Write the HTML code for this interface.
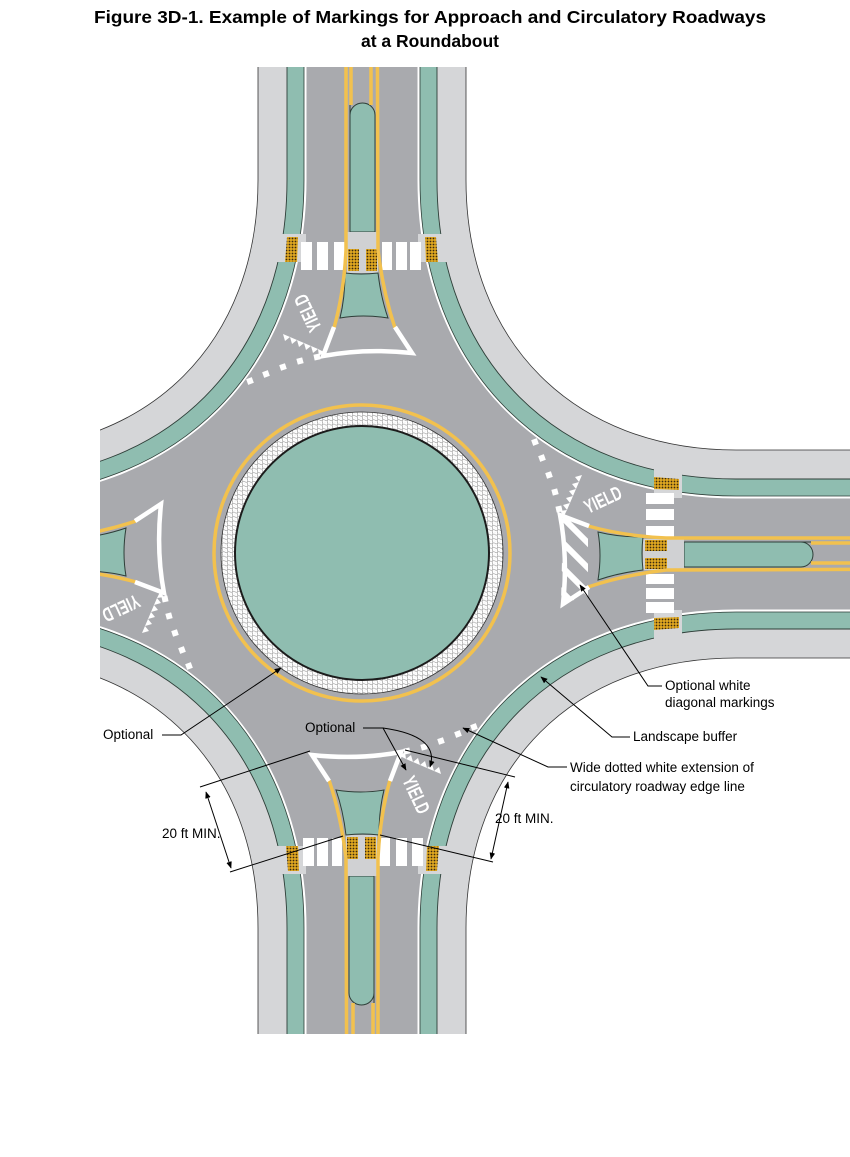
<!DOCTYPE html>
<html><head><meta charset="utf-8"><style>
html,body{margin:0;padding:0;background:#fff;width:850px;height:1157px;overflow:hidden;}
svg{display:block;}
</style></head><body>
<svg width="850" height="1157" viewBox="0 0 850 1157" xmlns="http://www.w3.org/2000/svg" font-family="Liberation Sans, Arial, sans-serif">
<defs>
<pattern id="hex" patternUnits="userSpaceOnUse" width="5" height="4.4">
<rect width="5" height="4.4" fill="#fff"/>
<circle cx="1.25" cy="1.1" r="1.6" fill="#fff" stroke="#8a8a8a" stroke-width="0.5"/>
<circle cx="3.75" cy="3.3" r="1.6" fill="#fff" stroke="#8a8a8a" stroke-width="0.5"/>
</pattern>
<pattern id="pad" patternUnits="userSpaceOnUse" width="3" height="3">
<rect width="3" height="3" fill="#e0a820"/>
<circle cx="1.5" cy="1.5" r="0.9" fill="#3a2a10"/>
</pattern>
<clipPath id="frame"><rect x="100" y="67" width="750" height="967"/></clipPath>
<marker id="ah" viewBox="0 0 10 10" refX="9" refY="5" markerWidth="7" markerHeight="7" orient="auto-start-reverse">
<path d="M0,1 L10,5 L0,9 Z" fill="#000"/></marker>
<g id="arm">
<polygon points="272,234 306,234 306,262 268,262" fill="#d5d6d8"/>
<polygon points="418,234 452,234 456,262 418,262" fill="#d5d6d8"/>
<polygon points="287,237 298,237 297,262 285,262" fill="url(#pad)"/>
<polygon points="425,237 436,237 438,262 426,262" fill="url(#pad)"/>
<g fill="#fff">
<rect x="301" y="242" width="11" height="28"/>
<rect x="317" y="242" width="11" height="28"/>
<rect x="334" y="242" width="11" height="28"/>
<rect x="382" y="242" width="10" height="28"/>
<rect x="396" y="242" width="11" height="28"/>
<rect x="410" y="242" width="11" height="28"/>
</g>
<path d="M350,-400 L350,115 A12.5,12 0 0 1 375,115 L375,232 L350,232 Z" fill="#8fbdb0" stroke="#2e3e38" stroke-width="1"/>
<rect x="347" y="232" width="31" height="41" fill="#d0d1d3"/>
<rect x="348" y="249" width="11" height="22" fill="url(#pad)"/>
<rect x="366" y="249" width="11" height="22" fill="url(#pad)"/>
<path d="M345,273 Q361,275 378,273 Q381,298 388,318 Q363,314 340,318 Q345,298 345,273 Z" fill="#8fbdb0" stroke="#2e3e38" stroke-width="1"/>
<g fill="none" stroke="#f2c14e" stroke-width="3.5">
<path d="M346,-400 L346,250 Q344,292 334,328"/>
<path d="M351,-400 L351,105"/>
<path d="M376,-400 L378,250 Q383,292 395,328"/>
<path d="M371,-400 L371,105"/>
</g>
<path d="M334,327 L323,356 Q365,348 412,353 L395,327" fill="none" stroke="#fff" stroke-width="4.5" stroke-linejoin="miter"/>
<g fill="#fff">
<path d="M283,334 l7,3 l-5,4 z"/><path d="M290,337 l7,3 l-5,4 z"/><path d="M297,340 l7,3 l-5,4 z"/>
<path d="M304,343 l7,3 l-5,4 z"/><path d="M311,346 l7,3 l-5,4 z"/><path d="M318,349 l6,3 l-5,4 z"/>
</g>
<g fill="#fff">
<rect x="-3" y="-3" width="6" height="6" transform="translate(250,381) rotate(-20)"/>
<rect x="-3" y="-3" width="6" height="6" transform="translate(266,374) rotate(-20)"/>
<rect x="-3" y="-3" width="6" height="6" transform="translate(283,367) rotate(-18)"/>
<rect x="-3" y="-3" width="6" height="6" transform="translate(300,361) rotate(-15)"/>
<rect x="-3" y="-3" width="6" height="6" transform="translate(317,357) rotate(-12)"/>
</g>
<text x="0" y="0" font-size="14" font-weight="bold" fill="#fff" text-anchor="middle" dominant-baseline="central" transform="translate(308,313) rotate(-115) scale(0.95,1.4)">YIELD</text>
</g>
</defs>

<text x="430" y="23" font-size="17.5" font-weight="bold" text-anchor="middle" textLength="672" lengthAdjust="spacingAndGlyphs">Figure 3D-1.  Example of Markings for Approach and Circulatory Roadways</text>
<text x="430" y="47" font-size="17.5" font-weight="bold" text-anchor="middle">at a Roundabout</text>

<g clip-path="url(#frame)">
<path d="M258,-100 L258,180 C258,342 150,450 -12,450 L-100,450 L-100,658 L-12,658 C150,658 258,766 258,928 L258,1200 L466,1200 L466,928 C466,766 574,658 736,658 L1000,658 L1000,450 L736,450 C574,450 466,342 466,180 L466,-100 Z" fill="#d5d6d8" stroke="#333" stroke-width="0.8"/>
<path d="M287,-100 L287,180 C287,359.4 167.4,479 -12,479 L-100,479 L-100,629 L-12,629 C167.4,629 287,748.6 287,928 L287,1200 L437,1200 L437,928 C437,748.6 556.6,629 736,629 L1000,629 L1000,479 L736,479 C556.6,479 437,359.4 437,180 L437,-100 Z" fill="#8fbdb0" stroke="#2e3e38" stroke-width="0.9"/>
<path d="M304,-100 L304,180 C304,369.6 177.6,496 -12,496 L-100,496 L-100,612 L-12,612 C177.6,612 304,738.4 304,928 L304,1200 L420,1200 L420,928 C420,738.4 546.4,612 736,612 L1000,612 L1000,496 L736,496 C546.4,496 420,369.6 420,180 L420,-100 Z" fill="#ffffff" stroke="#2e3e38" stroke-width="0.8"/>
<path d="M306.5,-100 L306.5,180 C306.5,369.6 179.1,498.5 -12,498.5 L-100,498.5 L-100,609.5 L-12,609.5 C179.1,609.5 306.5,738.4 306.5,928 L306.5,1200 L417.5,1200 L417.5,928 C417.5,738.4 544.9,609.5 736,609.5 L1000,609.5 L1000,498.5 L736,498.5 C544.9,498.5 417.5,369.6 417.5,180 L417.5,-100 Z" fill="#a9aaae"/>

<use href="#arm"/>
<use href="#arm" transform="rotate(90 362 554)"/>
<use href="#arm" transform="rotate(180 362 554)"/>
<use href="#arm" transform="rotate(270 362 554)"/>

<clipPath id="nose"><polygon points="563,518 588,528 588,598 561,602"/></clipPath>
<g clip-path="url(#nose)" stroke="#fff" stroke-width="6">
<line x1="550" y1="505" x2="600" y2="555"/>
<line x1="550" y1="530" x2="600" y2="580"/>
<line x1="550" y1="555" x2="600" y2="605"/>
<line x1="550" y1="580" x2="600" y2="630"/>
</g>

<circle cx="362" cy="553" r="148" fill="none" stroke="#f2c14e" stroke-width="3.5"/>
<circle cx="362" cy="553" r="141" fill="url(#hex)" stroke="#333" stroke-width="0.8"/>
<circle cx="362" cy="553" r="127" fill="#8fbdb0" stroke="#1c1c1c" stroke-width="2"/>
</g>

<g font-size="13.5" fill="#000">
<text x="103" y="739">Optional</text>
<text x="305" y="732">Optional</text>
<text x="162" y="838">20 ft MIN.</text>
<text x="495" y="823">20 ft MIN.</text>
<text x="570" y="772">Wide dotted white extension of</text>
<text x="570" y="791">circulatory roadway edge line</text>
<text x="633" y="741">Landscape buffer</text>
<text x="665" y="690">Optional white</text>
<text x="665" y="707">diagonal markings</text>
</g>
<g fill="none" stroke="#000" stroke-width="1">
<path d="M162,735 L181,735 L281,668" marker-end="url(#ah)"/>
<path d="M363,728 L383,728 L406,770" marker-end="url(#ah)"/>
<path d="M383,728 Q440,736 430,767" marker-end="url(#ah)"/>
<path d="M567,767 L548,767 L463,728" marker-end="url(#ah)"/>
<path d="M630,737 L612,737 L541,677" marker-end="url(#ah)"/>
<path d="M662,686 L648,686 L580,585" marker-end="url(#ah)"/>
<line x1="200" y1="787" x2="310" y2="751"/>
<line x1="230" y1="872" x2="343" y2="836"/>
<path d="M206,792 L231,868" marker-start="url(#ah)" marker-end="url(#ah)"/>
<line x1="405" y1="750" x2="515" y2="777"/>
<line x1="380" y1="835" x2="493" y2="862"/>
<path d="M508,782 L491,859" marker-start="url(#ah)" marker-end="url(#ah)"/>
</g>
</svg>
</body></html>
